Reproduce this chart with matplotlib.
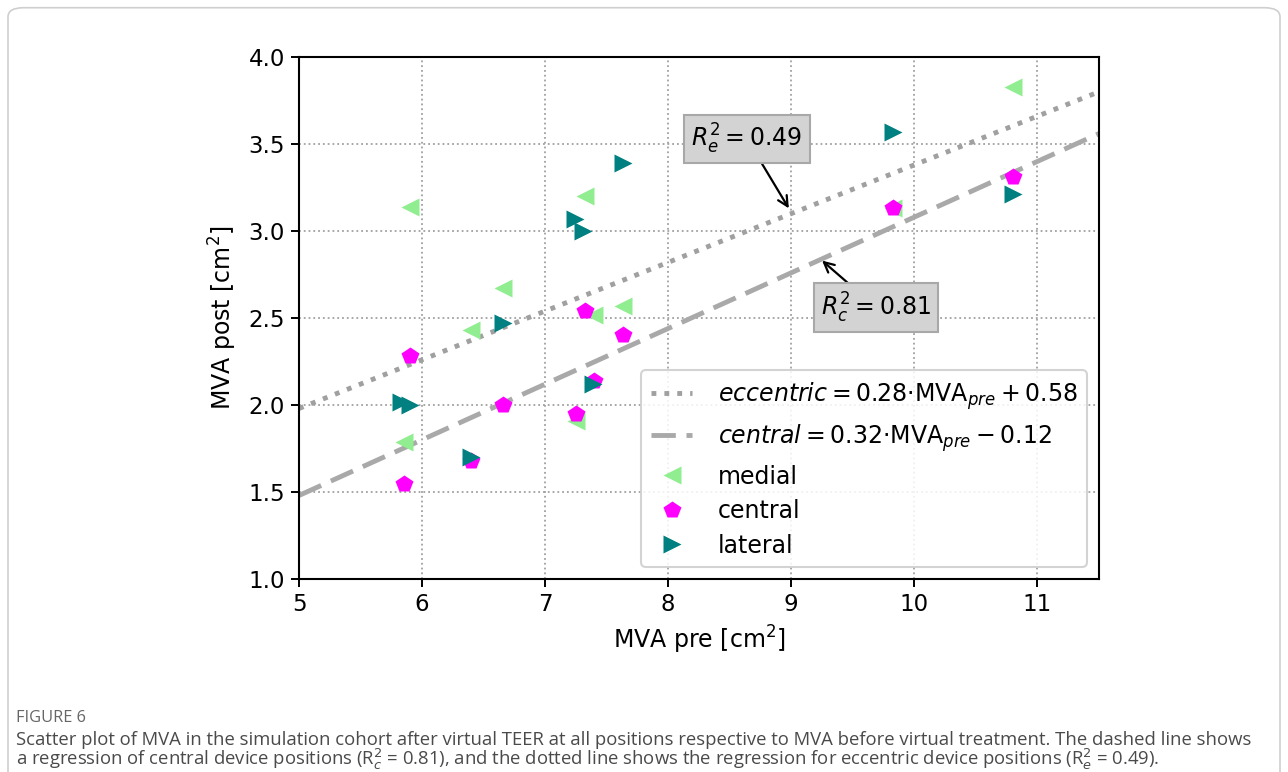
import matplotlib
matplotlib.use("Agg")
import matplotlib.pyplot as plt
from matplotlib.patches import FancyBboxPatch
import numpy as np

# ---- data ----
mva_pre = [5.85, 5.90, 6.40, 6.66, 7.25, 7.32, 7.40, 7.63, 9.83, 10.80]
post_medial = [1.79, 3.14, 2.43, 2.67, 1.91, 3.20, 2.52, 2.57, 3.13, 3.83]
post_central = [1.545, 2.28, 1.68, 2.00, 1.95, 2.54, 2.14, 2.40, 3.13, 3.31]
post_lateral_x = [5.83, 5.90, 6.40, 6.66, 7.24, 7.31, 7.39, 7.63, 9.83, 10.80]
post_lateral = [2.02, 2.00, 1.70, 2.47, 3.07, 3.00, 2.12, 3.39, 3.57, 3.21]
ecc_coef = (0.28, 0.58)
cen_coef = (0.32, -0.12)
r2_ecc = 0.49
r2_cen = 0.81
x_ticks = [5, 6, 7, 8, 9, 10, 11]
y_ticks = [1.0, 1.5, 2.0, 2.5, 3.0, 3.5, 4.0]

plt.rcParams['font.family'] = ['DejaVu Sans']
plt.rcParams['mathtext.fontset'] = 'dejavusans'

W, H = 1288, 772
fig = plt.figure(figsize=(W / 100, H / 100), dpi=100)
ax = fig.add_axes([299 / W, 1 - 579 / H, 800 / W, 522 / H])

xl = np.array([5.0, 11.5])
ax.plot(xl, ecc_coef[0] * xl + ecc_coef[1], linestyle=':', color='#a0a0a0', lw=3.5,
        label=r'$eccentric = 0.28{\cdot}\mathrm{MVA}_{pre} + 0.58$', zorder=2)
ax.plot(xl, cen_coef[0] * xl + cen_coef[1], linestyle=(0, (5, 2.2)), color='#a9a9a9', lw=3.5,
        label=r'$central = 0.32{\cdot}\mathrm{MVA}_{pre} - 0.12$', zorder=2)

ms = 13
ax.plot(mva_pre, post_medial, linestyle='none', marker='<', ms=ms, color='#90ee90',
        mec='none', label='medial', zorder=3)
ax.plot(mva_pre, post_central, linestyle='none', marker='p', ms=ms, color='#ff00ff',
        mec='none', label='central', zorder=3)
ax.plot(post_lateral_x, post_lateral, linestyle='none', marker='>', ms=ms, color='#008080',
        mec='none', label='lateral', zorder=3)

ax.set_xlim(5, 11.5)
ax.set_ylim(1.0, 4.0)
ax.set_xticks(x_ticks)
ax.set_yticks(y_ticks)
ax.set_xticklabels([str(v) for v in x_ticks])
ax.set_yticklabels([f'{v:.1f}' for v in y_ticks])
ax.tick_params(labelsize=16.5, width=1.4, length=6, color='black', pad=4)
for s in ax.spines.values():
    s.set_linewidth(1.5)
ax.grid(True, linestyle=':', color='#a0a0a0', lw=1.3)
ax.set_axisbelow(True)
ax.set_xlabel(r'MVA pre [cm$^2$]', fontsize=17, labelpad=6)
ax.set_ylabel(r'MVA post [cm$^2$]', fontsize=17, labelpad=7)

bbox = dict(boxstyle='square,pad=0.3', fc='#d3d3d3', ec='#a8a8a8', lw=1.5)
ax.annotate(r'$R_e^2 = %.2f$' % r2_ecc, xy=(8.98, 3.13), xytext=(8.64, 3.53),
            ha='center', va='center', fontsize=17, bbox=bbox,
            arrowprops=dict(arrowstyle='->', color='black', lw=1.6, mutation_scale=18,
                            shrinkA=0, shrinkB=0), zorder=5)
ax.annotate(r'$R_c^2 = %.2f$' % r2_cen, xy=(9.25, 2.83), xytext=(9.69, 2.56),
            ha='center', va='center', fontsize=17, bbox=bbox,
            arrowprops=dict(arrowstyle='->', color='black', lw=1.6, mutation_scale=18,
                            shrinkA=0, shrinkB=0), zorder=5)

leg = ax.legend(loc='lower right', fontsize=17, framealpha=0.85, edgecolor='#cccccc',
                borderaxespad=0.5, handlelength=1.75, labelspacing=0.45, borderpad=0.4,
                handletextpad=1.1)
leg.get_frame().set_linewidth(1.5)

# ---- outer border and caption ----
fig.patches.append(FancyBboxPatch((8 / W, -0.05), 1272 / W, 1.04, boxstyle='round,pad=0,rounding_size=0.012',
                                  transform=fig.transFigure, fc='none', ec='#cfcfcf', lw=1.2))
cap_font = ['Open Sans', 'DejaVu Sans']
fig.text(16 / W, 1 - 718 / H, 'FIGURE 6', fontsize=11.8, color='#666666', family=cap_font,
         va='center', ha='left')
fig.text(16 / W, 1 - 745 / H,
         'Scatter plot of MVA in the simulation cohort after virtual TEER at all positions respective to MVA before virtual treatment. The dashed line shows',
         fontsize=13.3, color='#4a4a4a', family=cap_font, va='baseline', ha='left')
fig.text(16 / W, 1 - 765 / H,
         r'a regression of central device positions (R$_c^2$ = 0.81), and the dotted line shows the regression for eccentric device positions (R$_e^2$ = 0.49).',
         fontsize=13.3, color='#4a4a4a', family=cap_font, va='baseline', ha='left')

fig.savefig('out.png', dpi=100)
